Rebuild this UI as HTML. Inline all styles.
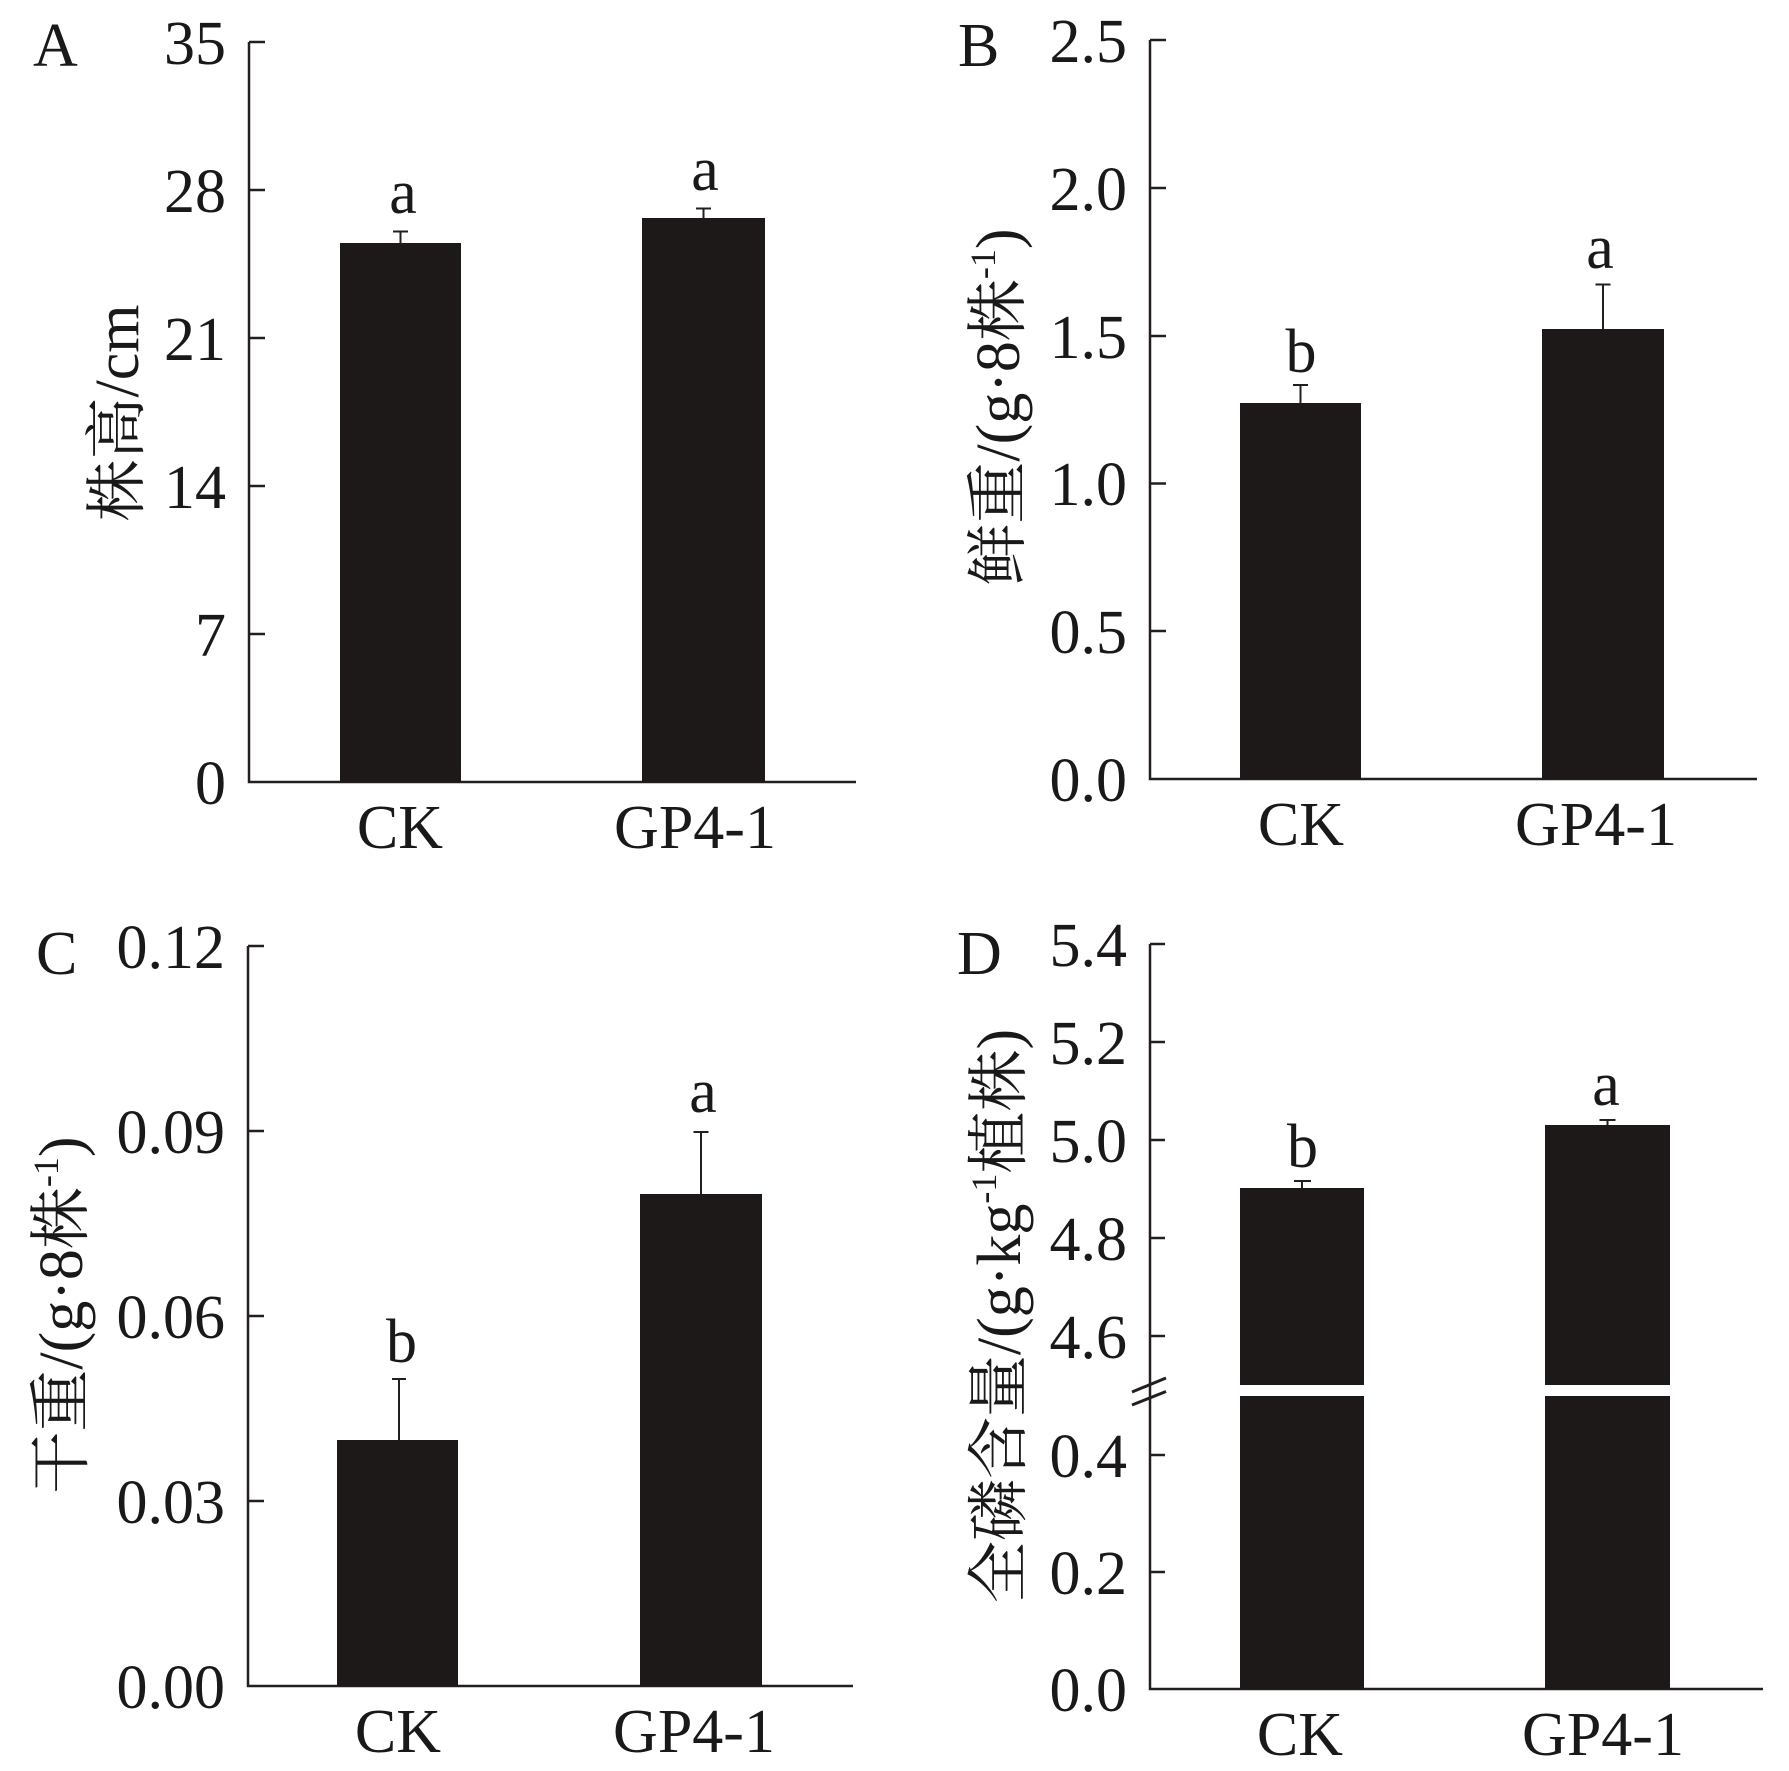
<!DOCTYPE html>
<html>
<head>
<meta charset="utf-8">
<style>
html,body{margin:0;padding:0;background:#fff;}
body{width:1789px;height:1771px;overflow:hidden;}
svg{display:block;}
</style>
</head>
<body>
<svg xmlns="http://www.w3.org/2000/svg" width="1789" height="1771" viewBox="0 0 1789 1771">
<rect x="0" y="0" width="1789" height="1771" fill="#ffffff"/>
<g font-family="'Liberation Serif','Noto Serif CJK SC',serif" font-size="62" fill="#1a1818">

<!-- ================= Panel A ================= -->
<g stroke="#231f20" stroke-width="2.5" fill="none">
  <path d="M249,42 V782 H856"/>
  <path d="M249,42 H265 M249,190 H265 M249,338 H265 M249,486 H265 M249,634 H265"/>
</g>
<g text-anchor="end">
  <text x="226" y="64">35</text>
  <text x="226" y="212">28</text>
  <text x="226" y="360">21</text>
  <text x="226" y="508">14</text>
  <text x="226" y="656">7</text>
  <text x="226" y="804">0</text>
</g>
<rect x="340" y="243" width="121" height="539" fill="#1c1918"/>
<rect x="642" y="218" width="123" height="564" fill="#1c1918"/>
<g stroke="#231f20" stroke-width="2">
  <path d="M400.5,231.5 V243 M393,231.5 H408"/>
  <path d="M703.5,208.5 V218 M696,208.5 H711"/>
</g>
<g text-anchor="middle">
  <text x="403" y="213">a</text>
  <text x="705" y="190">a</text>
  <text x="400" y="848">CK</text>
  <text x="695" y="848">GP4-1</text>
</g>
<text x="33" y="66">A</text>
<text text-anchor="middle" transform="translate(138,413) rotate(-90)">株高/cm</text>

<!-- ================= Panel B ================= -->
<g stroke="#231f20" stroke-width="2.5" fill="none">
  <path d="M1150,40 V779 H1757"/>
  <path d="M1150,40 H1166 M1150,188 H1166 M1150,336 H1166 M1150,483.5 H1166 M1150,631 H1166"/>
</g>
<g text-anchor="end">
  <text x="1127" y="62">2.5</text>
  <text x="1127" y="210">2.0</text>
  <text x="1127" y="358">1.5</text>
  <text x="1127" y="505">1.0</text>
  <text x="1127" y="653">0.5</text>
  <text x="1127" y="801">0.0</text>
</g>
<rect x="1240" y="403" width="121" height="376" fill="#1c1918"/>
<rect x="1542" y="329" width="122" height="450" fill="#1c1918"/>
<g stroke="#231f20" stroke-width="2">
  <path d="M1300.5,385 V403 M1293,385 H1308"/>
  <path d="M1603,284.5 V329 M1595.5,284.5 H1610.5"/>
</g>
<g text-anchor="middle">
  <text x="1301" y="372">b</text>
  <text x="1600" y="268">a</text>
  <text x="1301" y="845">CK</text>
  <text x="1596" y="845">GP4-1</text>
</g>
<text x="958" y="66">B</text>
<text text-anchor="middle" transform="translate(1019,407) rotate(-90)">鲜重/(g·8株<tspan font-size="36" dy="-24">-1</tspan><tspan dy="24">)</tspan></text>

<!-- ================= Panel C ================= -->
<g stroke="#231f20" stroke-width="2.5" fill="none">
  <path d="M248,946 V1686 H853"/>
  <path d="M248,946 H264 M248,1131 H264 M248,1316 H264 M248,1501 H264"/>
</g>
<g text-anchor="end">
  <text x="225" y="968">0.12</text>
  <text x="225" y="1153">0.09</text>
  <text x="225" y="1338">0.06</text>
  <text x="225" y="1523">0.03</text>
  <text x="225" y="1708">0.00</text>
</g>
<rect x="337" y="1440" width="121" height="246" fill="#1c1918"/>
<rect x="640" y="1194" width="122" height="492" fill="#1c1918"/>
<g stroke="#231f20" stroke-width="2">
  <path d="M399,1379 V1440 M392,1379 H406"/>
  <path d="M701,1132 V1194 M693.5,1132 H708.5"/>
</g>
<g text-anchor="middle">
  <text x="401.5" y="1362">b</text>
  <text x="703" y="1112">a</text>
  <text x="398" y="1752">CK</text>
  <text x="694" y="1752">GP4-1</text>
</g>
<text x="36" y="974">C</text>
<text text-anchor="middle" transform="translate(82,1315) rotate(-90)">干重/(g·8株<tspan font-size="36" dy="-24">-1</tspan><tspan dy="24">)</tspan></text>

<!-- ================= Panel D ================= -->
<g stroke="#231f20" stroke-width="2.5" fill="none">
  <path d="M1150,944 V1689 H1763"/>
  <path d="M1150,944 H1165 M1150,1042 H1165 M1150,1140 H1165 M1150,1238 H1165 M1150,1336 H1165 M1150,1455 H1165 M1150,1572 H1165"/>
  <path d="M1132,1392 L1166,1378 M1132,1405 L1166,1391.5" stroke-width="3"/>
</g>
<g text-anchor="end">
  <text x="1127" y="966">5.4</text>
  <text x="1127" y="1064">5.2</text>
  <text x="1127" y="1162">5.0</text>
  <text x="1127" y="1260">4.8</text>
  <text x="1127" y="1358">4.6</text>
  <text x="1127" y="1477">0.4</text>
  <text x="1127" y="1594">0.2</text>
  <text x="1127" y="1711">0.0</text>
</g>
<rect x="1240" y="1188" width="124" height="197" fill="#1c1918"/>
<rect x="1240" y="1396" width="124" height="293" fill="#1c1918"/>
<rect x="1545" y="1125" width="125" height="260" fill="#1c1918"/>
<rect x="1545" y="1396" width="125" height="293" fill="#1c1918"/>
<g stroke="#231f20" stroke-width="2">
  <path d="M1302,1181 V1188 M1294,1181 H1311"/>
  <path d="M1607.5,1120 V1125 M1599.5,1120 H1615.5"/>
</g>
<g text-anchor="middle">
  <text x="1302.5" y="1167">b</text>
  <text x="1606" y="1105">a</text>
  <text x="1300" y="1755">CK</text>
  <text x="1603" y="1755">GP4-1</text>
</g>
<text x="957" y="974">D</text>
<text text-anchor="middle" transform="translate(1020,1316) rotate(-90)">全磷含量/(g·kg<tspan font-size="36" dy="-24">-1</tspan><tspan dy="24">植株)</tspan></text>

</g>
</svg>
</body>
</html>
